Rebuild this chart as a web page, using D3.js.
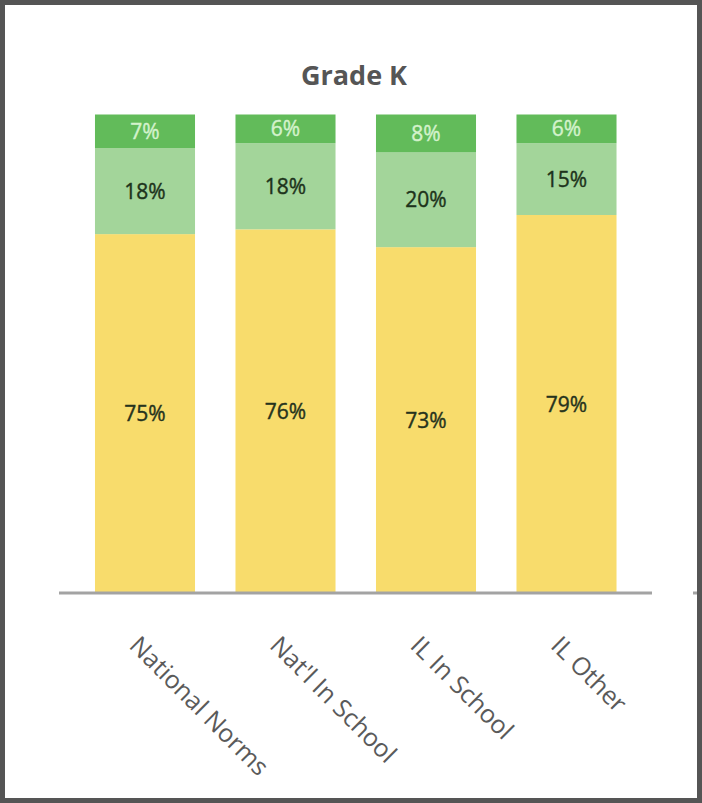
<!DOCTYPE html>
<html>
<head>
<meta charset="utf-8">
<script src="https://cdn.jsdelivr.net/npm/d3@7"></script>
<style>
  html, body { margin: 0; padding: 0; background: #fff; }
  svg { display: block; }
</style>
</head>
<body>
<svg id="chart" width="702" height="803"></svg>
<script>
// Grade K: share of students in each band, per comparison group
const categories = ["National Norms", "Nat'l In School", "IL In School", "IL Other"];
const segments = ["base", "middle", "top"];          // stacked bottom → top
const baseValues = [75, 76, 73, 79];
const middleValues = [18, 18, 20, 15];
const topValues = [7, 6, 8, 6];
const title = "Grade K";

const rows = categories.map((c, i) => ({
  category: c,
  base: baseValues[i],
  middle: middleValues[i],
  top: topValues[i]
}));

const fills = { base: "#f8dc6c", middle: "#a3d59a", top: "#62bb5a" };
const labelFills = { base: "#26331d", middle: "#1d331b", top: "#d4f2cc" };

const W = 702, H = 803;
const svg = d3.select("#chart");

// frame
svg.append("rect")
  .attr("x", 2.5).attr("y", 2.5)
  .attr("width", W - 5).attr("height", H - 5)
  .attr("fill", "#fff")
  .attr("stroke", "#555")
  .attr("stroke-width", 5);

const x = d3.scaleBand()
  .domain(categories)
  .range([74.75, 636.75])
  .paddingInner(0.288)
  .paddingOuter(0.144);

const y = d3.scaleLinear().domain([0, 1]).range([593, 114.5]);

// 100% stacked columns
const stacked = d3.stack()
  .keys(segments)
  .offset(d3.stackOffsetExpand)(rows);

const layer = svg.append("g").selectAll("g")
  .data(stacked)
  .join("g")
  .attr("fill", s => fills[s.key]);

layer.selectAll("rect")
  .data(s => s.map(d => ({ key: s.key, d })))
  .join("rect")
  .attr("x", o => x(o.d.data.category))
  .attr("width", x.bandwidth())
  .attr("y", o => y(o.d[1]))
  .attr("height", o => y(o.d[0]) - y(o.d[1]));

// value labels at segment centres
layer.selectAll("text")
  .data(s => s.map(d => ({ key: s.key, d })))
  .join("text")
  .attr("x", o => x(o.d.data.category) + x.bandwidth() / 2)
  .attr("y", o => y((o.d[0] + o.d[1]) / 2))
  .attr("dy", "0.36em")
  .attr("text-anchor", "middle")
  .attr("font-family", "'Open Sans', sans-serif")
  .attr("font-size", 21)
  .attr("fill", o => labelFills[o.key])
  .attr("stroke", o => labelFills[o.key])
  .attr("stroke-width", 0.4)
  .text(o => o.d.data[o.key] + "%");

// category axis
const axis = svg.append("g").attr("transform", `translate(0,${y(0)})`);
axis.append("line")
  .attr("x1", 59).attr("x2", 652)
  .attr("stroke", "#a3a3a3")
  .attr("stroke-width", 3);

axis.selectAll("text")
  .data(categories)
  .join("text")
  .attr("transform", c => `translate(${x(c) + x.bandwidth() / 2 - 17},54) rotate(45)`)
  .attr("text-anchor", "start")
  .attr("font-family", "'Open Sans', sans-serif")
  .attr("font-size", 25)
  .attr("fill", "#5a5a5a")
  .text(c => c);

// stub of the neighbouring chart's axis at the right edge
svg.append("line")
  .attr("x1", 693).attr("x2", 697)
  .attr("y1", y(0)).attr("y2", y(0))
  .attr("stroke", "#a3a3a3")
  .attr("stroke-width", 3);

// title
svg.append("text")
  .attr("x", 354).attr("y", 85)
  .attr("text-anchor", "middle")
  .attr("font-family", "'Open Sans', sans-serif")
  .attr("font-weight", "bold")
  .attr("font-size", 27)
  .attr("fill", "#555")
  .text(title);
</script>
</body>
</html>
